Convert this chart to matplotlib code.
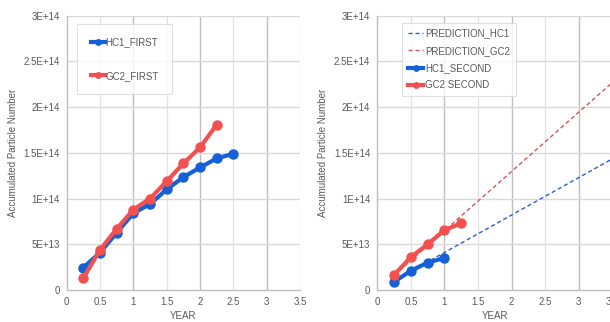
import numpy as np
import matplotlib.pyplot as plt
from matplotlib.ticker import MultipleLocator, FixedLocator

plt.rcParams['font.family'] = ['Liberation Sans', 'DejaVu Sans']

# data
years_first = [0.25, 0.5, 0.75, 1.0, 1.25, 1.5, 1.75, 2.0, 2.25, 2.5]
hc1_first = [2.45e13, 4.1e13, 6.25e13, 8.4e13, 9.4e13, 1.1e14, 1.235e14, 1.34e14, 1.44e14, 1.49e14]
gc2_first = [1.3e13, 4.4e13, 6.7e13, 8.8e13, 1.0e14, 1.19e14, 1.385e14, 1.56e14, 1.81e14]

years_second = [0.25, 0.5, 0.75, 1.0, 1.25]
hc1_second = [9e12, 2.1e13, 3.0e13, 3.5e13]
gc2_second = [1.65e13, 3.6e13, 5.0e13, 6.55e13, 7.3e13]

pred_years = [0.25, 3.5]
pred_hc1 = [1.03e13, 1.435e14]
pred_gc2 = [1.62e13, 2.27e14]

ytick_vals = [0, 5e13, 1e14, 1.5e14, 2e14, 2.5e14, 3e14]
ytick_labels = ['0', '5E+13', '1E+14', '1.5E+14', '2E+14', '2.5E+14', '3E+14']
xtick_vals = [0, 0.5, 1, 1.5, 2, 2.5, 3, 3.5]
xtick_labels = ['0', '0.5', '1', '1.5', '2', '2.5', '3', '3.5']

BLUE = '#1560d6'
RED = '#f2514f'
TXT = '#595959'

fig = plt.figure(figsize=(6.1, 3.22), dpi=100)
ax1 = fig.add_axes([0.1093, 0.0994, 0.3828, 0.8518])
ax2 = fig.add_axes([0.6185, 0.0994, 0.3855, 0.8518])


def style(ax):
    ax.set_xlim(0, 3.5)
    ax.set_ylim(0, 3e14)
    ax.set_xticks(xtick_vals)
    ax.set_xticklabels(xtick_labels)
    ax.set_yticks(ytick_vals)
    ax.set_yticklabels(ytick_labels)
    ax.tick_params(length=0, labelsize=7, colors=TXT, pad=5)
    for v in [0.5, 1.5, 2.5, 3.5]:
        ax.axvline(v, color='#e3e3e3', lw=0.9, zorder=0)
    for v in [1, 2, 3]:
        ax.axvline(v, color='#bfbfbf', lw=1.0, zorder=0)
    for v in ytick_vals[1:]:
        ax.axhline(v, color='#d9d9d9', lw=1.0, zorder=0)
    for s in ['top', 'right']:
        ax.spines[s].set_visible(False)
    for s in ['left', 'bottom']:
        ax.spines[s].set_color('#bfbfbf')
        ax.spines[s].set_linewidth(1.0)
    ax.set_xlabel('YEAR', fontsize=7, color=TXT, labelpad=3)
    ax.set_ylabel('Accumulated Particle Number', fontsize=7, color=TXT, labelpad=4)


style(ax1)
style(ax2)

ax1.plot(years_first, hc1_first, color=BLUE, lw=3.0, marker='o', ms=6.5, label='HC1_FIRST')
ax1.plot(years_first[:len(gc2_first)], gc2_first, color=RED, lw=3.0, marker='o', ms=6.5, label='GC2_FIRST')
leg1 = ax1.legend(loc='upper left', bbox_to_anchor=(0.044, 0.97), fontsize=7, frameon=True,
                  fancybox=False, edgecolor='#d9d9d9', handlelength=1.5, handletextpad=0.0,
                  labelspacing=2.4, borderpad=1.4, borderaxespad=0, markerscale=0.6)
for t in leg1.get_texts():
    t.set_color(TXT)
leg1.get_frame().set_linewidth(0.8)

ax2.plot(pred_years, pred_hc1, color='#2f5fc4', lw=1.0, ls=(0, (3, 2)), label='PREDICTION_HC1')
ax2.plot(pred_years, pred_gc2, color='#c85a5a', lw=1.0, ls=(0, (3, 2)), label='PREDICTION_GC2')
ax2.plot(years_second[:len(hc1_second)], hc1_second, color=BLUE, lw=3.0, marker='o', ms=6.5, label='HC1_SECOND')
ax2.plot(years_second, gc2_second, color=RED, lw=3.0, marker='o', ms=6.5, label='GC2 SECOND')
leg2 = ax2.legend(loc='upper left', bbox_to_anchor=(0.105, 0.975), fontsize=7, frameon=True,
                  fancybox=False, edgecolor='#d9d9d9', handlelength=1.6, handletextpad=0.2,
                  labelspacing=0.75, borderpad=0.6, borderaxespad=0, markerscale=0.6)
for t in leg2.get_texts():
    t.set_color(TXT)
leg2.get_frame().set_linewidth(0.8)

fig.savefig('out.png', dpi=100)
